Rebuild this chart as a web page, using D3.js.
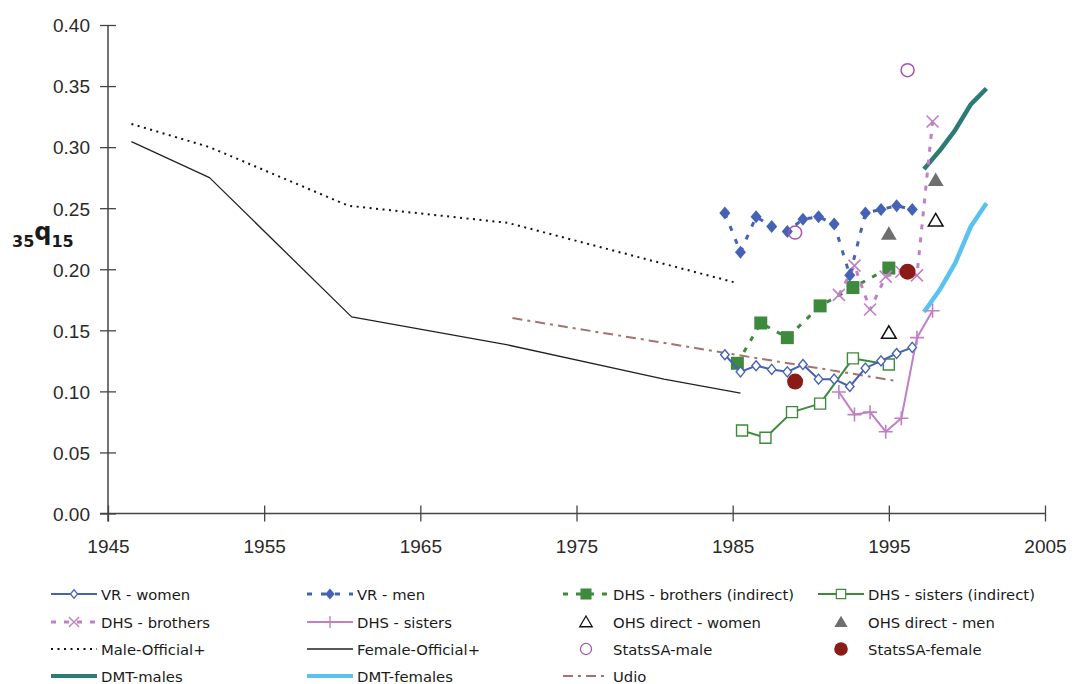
<!DOCTYPE html>
<head>
<meta charset="utf-8">
<script src="https://d3js.org/d3.v7.min.js"></script>
<style>
body { margin: 0; background: white; }
svg { display: block; background: white; font-family: "DejaVu Sans", Verdana, sans-serif; }
.tick text { fill: #2a2a2a; font-size: 19px; }
.tick line { stroke: #444; stroke-width: 1.3; }
.legend text { fill: #1a1a1a; font-size: 14.8px; }
</style>
</head>
<body>
<svg width="1072" height="684"></svg>
<script>
// values
var vrYears = [1984.5, 1985.5, 1986.5, 1987.5, 1988.5, 1989.5, 1990.5, 1991.5, 1992.5, 1993.5, 1994.5, 1995.5, 1996.5];
var vrWomen = [0.130, 0.116, 0.121, 0.118, 0.116, 0.122, 0.110, 0.110, 0.104, 0.119, 0.125, 0.131, 0.136];
var vrMen   = [0.246, 0.214, 0.243, 0.235, 0.231, 0.241, 0.243, 0.237, 0.195, 0.246, 0.249, 0.252, 0.249];

var broIndYears = [1985.3, 1986.8, 1988.5, 1990.6, 1992.7, 1995.0];
var dhsBrothersInd = [0.123, 0.156, 0.144, 0.170, 0.185, 0.201];
var sisIndYears = [1985.6, 1987.1, 1988.8, 1990.6, 1992.7, 1995.0];
var dhsSistersInd = [0.068, 0.062, 0.083, 0.090, 0.127, 0.122];

var dhsYears = [1991.8, 1992.8, 1993.8, 1994.8, 1995.8, 1996.8, 1997.8];
var dhsBrothers = [0.179, 0.203, 0.167, 0.194, 0.198, 0.195, 0.321];
var dhsSisters  = [0.0995, 0.081, 0.083, 0.067, 0.078, 0.144, 0.166];

var maleOffYears = [1946.5, 1951.5, 1960.4, 1970.6, 1985.2];
var maleOfficial = [0.319, 0.300, 0.252, 0.238, 0.189];
var femOffYears = [1946.5, 1951.5, 1960.6, 1970.6, 1980.6, 1985.5];
var femaleOfficial = [0.3045, 0.275, 0.161, 0.138, 0.110, 0.0985];

var dmtYears = [1997.25, 1998.25, 1999.25, 2000.25, 2001.25];
var dmtMales   = [0.282, 0.297, 0.314, 0.335, 0.348];
var dmtFemales = [0.165, 0.183, 0.205, 0.235, 0.254];

var udioYears = [1970.9, 1995.5];
var udio = [0.160, 0.1085];

var ohsYears = [1995.0, 1998.0];
var ohsWomen = [0.148, 0.240];
var ohsMen = [0.229, 0.273];

var statsYears = [1989.0, 1996.2];
var statsMale = [0.230, 0.363];
var statsFemale = [0.108, 0.198];

var xTicks = [1945, 1955, 1965, 1975, 1985, 1995, 2005];
var yTicks = [0, 0.05, 0.10, 0.15, 0.20, 0.25, 0.30, 0.35, 0.40];

var svg = d3.select("svg");
var x = d3.scaleLinear().domain([1945, 2005]).range([108, 1045]);
var y = d3.scaleLinear().domain([0, 0.40]).range([513.5, 25]);

// axes with ticks crossing the line
svg.append("g")
  .attr("transform", "translate(" + x(1945) + ",0)")
  .call(d3.axisLeft(y).tickValues(yTicks).tickFormat(d3.format(".2f")).tickSize(8))
  .call(function(g) {
    g.select(".domain").remove();
    g.selectAll(".tick line").attr("x1", -8).attr("x2", 8);
    g.selectAll(".tick text").attr("x", -18).attr("dy", "0.36em");
  });
svg.append("g")
  .attr("transform", "translate(0," + y(0) + ")")
  .call(d3.axisBottom(x).tickValues(xTicks).tickFormat(d3.format("d")).tickSize(8))
  .call(function(g) {
    g.select(".domain").remove();
    g.selectAll(".tick line").attr("y1", -8).attr("y2", 8);
    g.selectAll(".tick text").attr("y", 26);
  });
svg.append("line").attr("x1", x(1945)).attr("x2", x(1945)).attr("y1", y(0.40)).attr("y2", y(0) + 8)
  .attr("stroke", "#444").attr("stroke-width", 1.5);
svg.append("line").attr("x1", x(1945) - 8).attr("x2", x(2005)).attr("y1", y(0)).attr("y2", y(0))
  .attr("stroke", "#444").attr("stroke-width", 1.5);

// y title 35q15
var yt = svg.append("text").attr("x", 12).attr("y", 247).attr("font-weight", "bold").attr("fill", "#1a1a1a");
yt.append("tspan").attr("font-size", "16px").text("35");
yt.append("tspan").attr("font-size", "24px").attr("dy", -7).text("q");
yt.append("tspan").attr("font-size", "16px").attr("dy", 7).text("15");

// marker shapes
function diamond(r) { return "M0," + (-r) + "L" + (r * 0.85) + ",0L0," + r + "L" + (-r * 0.85) + ",0Z"; }
function square(r) { return "M" + (-r) + "," + (-r) + "H" + r + "V" + r + "H" + (-r) + "Z"; }
function triangle(r) { return "M0," + (-r) + "L" + (r * 1.05) + "," + (r * 0.8) + "L" + (-r * 1.05) + "," + (r * 0.8) + "Z"; }
function cross(r) { return "M" + (-r) + "," + (-r) + "L" + r + "," + r + "M" + (-r) + "," + r + "L" + r + "," + (-r); }
function plus(r) { return "M" + (-r) + ",0H" + r + "M0," + (-r) + "V" + r; }
function circle(r) { return "M" + (-r) + ",0A" + r + "," + r + " 0 1,0 " + r + ",0A" + r + "," + r + " 0 1,0 " + (-r) + ",0Z"; }

var series = [
  {name: "VR - women", xs: vrYears, ys: vrWomen, color: "#4562b5", width: 2, dash: null, shape: diamond(5), mfill: "white", mstroke: 1.4},
  {name: "VR - men", xs: vrYears, ys: vrMen, color: "#4562b5", width: 3, dash: "5,9", shape: diamond(6.5), mfill: "#4562b5", mstroke: 0},
  {name: "DHS - brothers (indirect)", xs: broIndYears, ys: dhsBrothersInd, color: "#3e8a3c", width: 3, dash: "5,8", shape: square(6.5), mfill: "#3e8a3c", mstroke: 0},
  {name: "DHS - sisters (indirect)", xs: sisIndYears, ys: dhsSistersInd, color: "#3e8a3c", width: 2, dash: null, shape: square(5.5), mfill: "white", mstroke: 1.4},
  {name: "DHS - brothers", xs: dhsYears, ys: dhsBrothers, color: "#c17fc6", width: 3, dash: "5,8", shape: cross(6), mfill: "none", mstroke: 1.6},
  {name: "DHS - sisters", xs: dhsYears, ys: dhsSisters, color: "#c17fc6", width: 2, dash: null, shape: plus(7), mfill: "none", mstroke: 1.6},
  {name: "OHS direct - women", xs: ohsYears, ys: ohsWomen, color: "#111", width: 0, dash: null, shape: triangle(7), mfill: "white", mstroke: 1.5},
  {name: "OHS direct - men", xs: ohsYears, ys: ohsMen, color: "#6e6e6e", width: 0, dash: null, shape: triangle(7.5), mfill: "#6e6e6e", mstroke: 0},
  {name: "Male-Official+", xs: maleOffYears, ys: maleOfficial, color: "#111", width: 2, dash: "2,4.5", shape: null},
  {name: "Female-Official+", xs: femOffYears, ys: femaleOfficial, color: "#222", width: 1.3, dash: null, shape: null},
  {name: "StatsSA-male", xs: statsYears, ys: statsMale, color: "#a353ab", width: 0, dash: null, shape: circle(6.5), mfill: "none", mstroke: 1.5},
  {name: "StatsSA-female", xs: statsYears, ys: statsFemale, color: "#8a1b17", width: 0, dash: null, shape: circle(8), mfill: "#8a1b17", mstroke: 0},
  {name: "DMT-males", xs: dmtYears, ys: dmtMales, color: "#2c7b75", width: 4.5, dash: null, shape: null},
  {name: "DMT-females", xs: dmtYears, ys: dmtFemales, color: "#5ac2ee", width: 4.5, dash: null, shape: null},
  {name: "Udio", xs: udioYears, ys: udio, color: "#a47272", width: 2, dash: "10,5,3,5", shape: null}
];

var line = d3.line().x(function(d) { return x(d[0]); }).y(function(d) { return y(d[1]); });

var drawOrder = [12, 13, 8, 9, 14, 3, 2, 5, 4, 0, 1, 6, 7, 10, 11];
var plot = svg.append("g");
drawOrder.forEach(function(i) {
  var s = series[i];
  var pts = s.xs.map(function(v, k) { return [v, s.ys[k]]; });
  if (s.width > 0) {
    plot.append("path").attr("d", line(pts)).attr("fill", "none")
      .attr("stroke", s.color).attr("stroke-width", s.width)
      .attr("stroke-dasharray", s.dash).attr("stroke-linejoin", "round");
  }
  if (s.shape) {
    plot.selectAll(null).data(pts).enter().append("path")
      .attr("d", s.shape)
      .attr("transform", function(d) { return "translate(" + x(d[0]) + "," + y(d[1]) + ")"; })
      .attr("fill", s.mfill)
      .attr("stroke", s.mstroke > 0 ? s.color : "none")
      .attr("stroke-width", s.mstroke);
  }
});

// legend, 4 columns
var colX = [51, 307, 563, 818];
var rowY = [594, 622, 649, 676];
var legend = svg.append("g").attr("class", "legend");
series.forEach(function(s, i) {
  var gx = colX[i % 4], gy = rowY[Math.floor(i / 4)];
  var g = legend.append("g").attr("transform", "translate(" + gx + "," + gy + ")");
  if (s.width > 0) {
    g.append("line").attr("x1", 0).attr("x2", 46).attr("y1", 0).attr("y2", 0)
      .attr("stroke", s.color).attr("stroke-width", Math.min(s.width, 4))
      .attr("stroke-dasharray", s.dash);
  }
  if (s.shape) {
    g.append("path").attr("d", s.shape).attr("transform", "translate(23,0) scale(0.85)")
      .attr("fill", s.mfill).attr("stroke", s.mstroke > 0 ? s.color : "none")
      .attr("stroke-width", s.mstroke);
  }
  g.append("text").attr("x", 50).attr("y", 5.5).text(s.name);
});
</script>
</body>
</html>
